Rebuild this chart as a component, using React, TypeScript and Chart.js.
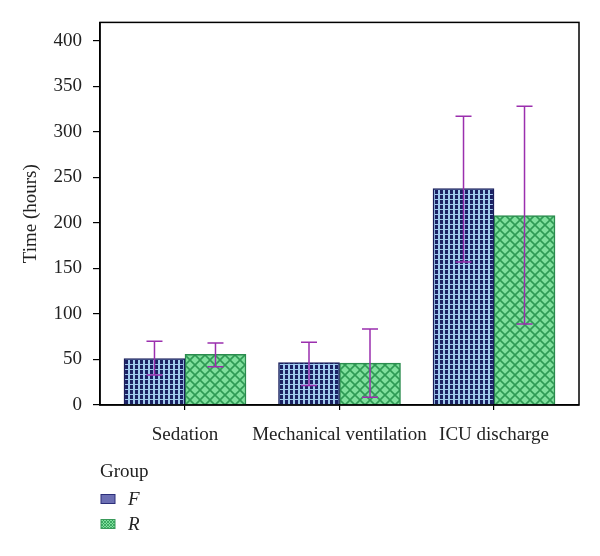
import { useEffect, useRef } from "react";
import { Chart, registerables } from "chart.js";

Chart.register(...registerables);

const categories = ["Sedation", "Mechanical ventilation", "ICU discharge"];
const seriesNames = ["F", "R"];
const legendTitle = "Group";
const axisTitle = "Time (hours)";

// bar heights (hours)
const fValues = [51, 46.5, 237.5];
const rValues = [55.5, 46, 208];
// error bar ends
const fLow = [33, 21.5, 157];
const fHigh = [70, 69, 317];
const rLow = [42, 8.5, 89];
const rHigh = [68, 83.5, 328];

const yMax = 420;
const yStep = 50;

const FONT = '"Liberation Serif", "DejaVu Serif", serif';
const TEXT = "#222222";

function gridPattern(ctx: CanvasRenderingContext2D) {
  const c = document.createElement("canvas");
  c.width = 5;
  c.height = 5;
  const g = c.getContext("2d")!;
  g.fillStyle = "#9fcbef";
  g.fillRect(0, 0, 5, 5);
  g.fillStyle = "#1b2164";
  g.fillRect(0, 0, 3, 4);
  return ctx.createPattern(c, "repeat")!;
}

function crossPattern(ctx: CanvasRenderingContext2D, s: number, lw: number) {
  const c = document.createElement("canvas");
  c.width = s;
  c.height = s;
  const g = c.getContext("2d")!;
  g.fillStyle = "#80df9d";
  g.fillRect(0, 0, s, s);
  g.strokeStyle = "#2f9a55";
  g.lineWidth = lw;
  g.beginPath();
  g.moveTo(-1, -1);
  g.lineTo(s + 1, s + 1);
  g.moveTo(s + 1, -1);
  g.lineTo(-1, s + 1);
  g.stroke();
  return ctx.createPattern(c, "repeat")!;
}

export default function App() {
  const ref = useRef<HTMLCanvasElement | null>(null);

  useEffect(() => {
    if (!ref.current) return;
    const ctx = ref.current.getContext("2d");
    if (!ctx) return;

    const fFill = gridPattern(ctx);
    const rFill = crossPattern(ctx, 10, 1.6);
    const rSmall = crossPattern(ctx, 3, 0.8);

    const errorBars = {
      id: "errorBars",
      afterDatasetsDraw(chart: any) {
        const { ctx, scales } = chart;
        const lows = [fLow, rLow];
        const highs = [fHigh, rHigh];
        ctx.save();
        ctx.strokeStyle = "#9b2fae";
        ctx.lineWidth = 1.5;
        chart.data.datasets.forEach((_: any, di: number) => {
          chart.getDatasetMeta(di).data.forEach((bar: any, i: number) => {
            const x = bar.x;
            const yt = scales.y.getPixelForValue(highs[di][i]);
            const yb = scales.y.getPixelForValue(lows[di][i]);
            ctx.beginPath();
            ctx.moveTo(x, yt);
            ctx.lineTo(x, yb);
            ctx.moveTo(x - 8, yt);
            ctx.lineTo(x + 8, yt);
            ctx.moveTo(x - 8, yb);
            ctx.lineTo(x + 8, yb);
            ctx.stroke();
          });
        });
        ctx.restore();
      },
    };

    // box round the plot plus the legend underneath
    const frameAndLegend = {
      id: "frameAndLegend",
      afterDraw(chart: any) {
        const { ctx, chartArea } = chart;
        ctx.save();
        ctx.strokeStyle = "#000";
        ctx.lineWidth = 1.5;
        ctx.strokeRect(chartArea.left, chartArea.top, chartArea.right - chartArea.left, chartArea.bottom - chartArea.top);

        ctx.fillStyle = TEXT;
        ctx.textBaseline = "middle";
        ctx.font = `19px ${FONT}`;
        ctx.fillText(legendTitle, 100, 472);
        const fills = ["#6c6fb3", rSmall];
        const borders = ["#2c2f7a", "#3a9a5a"];
        seriesNames.forEach((name, i) => {
          const y = 499 + i * 25;
          ctx.fillStyle = fills[i];
          ctx.fillRect(101, y - 4.5, 14, 9);
          ctx.strokeStyle = borders[i];
          ctx.lineWidth = 1;
          ctx.strokeRect(101, y - 4.5, 14, 9);
          ctx.fillStyle = TEXT;
          ctx.font = `italic 19px ${FONT}`;
          ctx.fillText(name, 128, y + 1);
        });
        ctx.restore();
      },
    };

    const chart = new Chart(ctx, {
      type: "bar",
      data: {
        datasets: [
          {
            label: seriesNames[0],
            data: fValues.map((v, i) => ({ x: i, y: v })),
            backgroundColor: fFill,
            borderColor: "#1b1f5c",
            borderWidth: 1.5,
            barThickness: 61,
          },
          {
            label: seriesNames[1],
            data: rValues.map((v, i) => ({ x: i, y: v })),
            backgroundColor: rFill,
            borderColor: "#2b8c4e",
            borderWidth: 1.5,
            barThickness: 61,
          },
        ],
      } as any,
      options: {
        responsive: false,
        animation: false,
        layout: { padding: { top: 21, right: 21, left: 0, bottom: 0 } },
        plugins: {
          legend: { display: false },
          tooltip: { enabled: false },
        },
        scales: {
          x: {
            type: "linear",
            min: -0.55,
            max: 2.55,
            offset: false,
            afterFit: (s: any) => {
              s.height = 151;
            },
            grid: { drawOnChartArea: false, offset: false, tickLength: 5, color: "#000", lineWidth: 1.2 },
            border: { color: "#000", width: 1.5 },
            ticks: {
              stepSize: 1,
              includeBounds: false,
              autoSkip: false,
              maxRotation: 0,
              padding: 14,
              color: TEXT,
              font: { family: FONT, size: 19 },
              callback: (v: any) => categories[v] ?? "",
            },
          },
          y: {
            min: 0,
            max: yMax,
            afterFit: (s: any) => {
              s.width = 100;
            },
            grid: { drawOnChartArea: false, tickLength: 7, color: "#000", lineWidth: 1.2 },
            border: { color: "#000", width: 1.5 },
            ticks: {
              stepSize: yStep,
              includeBounds: false,
              padding: 11,
              color: TEXT,
              font: { family: FONT, size: 19 },
            },
            title: {
              display: true,
              text: axisTitle,
              color: TEXT,
              font: { family: FONT, size: 19 },
              padding: { top: 20, bottom: 0 },
            },
          },
        },
      } as any,
      plugins: [errorBars, frameAndLegend],
    });

    return () => chart.destroy();
  }, []);

  return (
    <div style={{ position: "absolute", left: 0, top: 0, width: 600, height: 556, background: "#fff" }}>
      <canvas ref={ref} width={600} height={556} />
    </div>
  );
}
